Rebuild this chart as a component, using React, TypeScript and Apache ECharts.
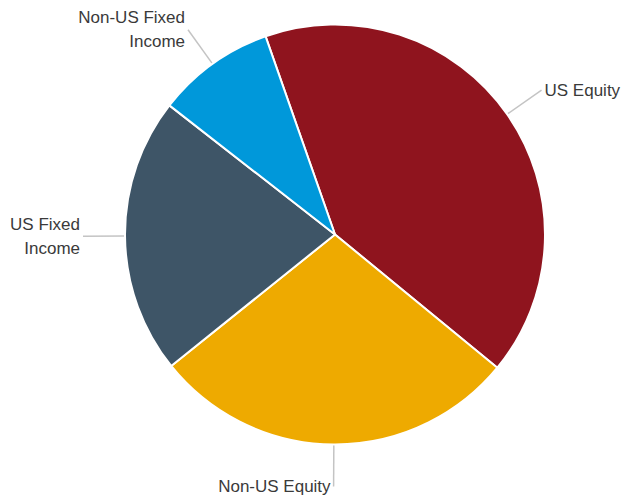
import React, { useEffect, useRef } from "react";
import * as echarts from "echarts";

const categories = ["US Equity", "Non-US Equity", "US Fixed\nIncome", "Non-US Fixed\nIncome"];
const values = [41.3, 28.3, 21.3, 9.1];
const colors = ["#8F141E", "#EEAA00", "#3E5567", "#0098DA"];

export default function App() {
  const ref = useRef<HTMLDivElement>(null);
  useEffect(() => {
    if (!ref.current) return;
    const chart = echarts.init(ref.current, undefined, { renderer: "svg" });
    chart.setOption({
      animation: false,
      backgroundColor: "#ffffff",
      series: [
        {
          type: "pie",
          center: [335, 234.5],
          radius: [0, 210],
          startAngle: 109.3,
          clockwise: true,
          avoidLabelOverlap: false,
          itemStyle: { borderColor: "#ffffff", borderWidth: 2 },
          label: {
            show: true,
            position: "outside",
            color: "#3a3a3a",
            fontSize: 17,
            lineHeight: 24,
            fontFamily: "Liberation Sans, Arial, sans-serif",
            distanceToLabelLine: 3,
            bleedMargin: 0,
          },
          labelLine: {
            show: true,
            length: 42,
            length2: 0,
            smooth: false,
            lineStyle: { color: "#C4C4C4", width: 1.5 },
          },
          data: categories.map((name, i) => ({
            name,
            value: values[i],
            itemStyle: { color: colors[i] },
          })),
        },
      ],
    });
    return () => chart.dispose();
  }, []);
  return (
    <div
      ref={ref}
      style={{ position: "fixed", left: 0, top: 0, width: 621, height: 500 }}
    />
  );
}
